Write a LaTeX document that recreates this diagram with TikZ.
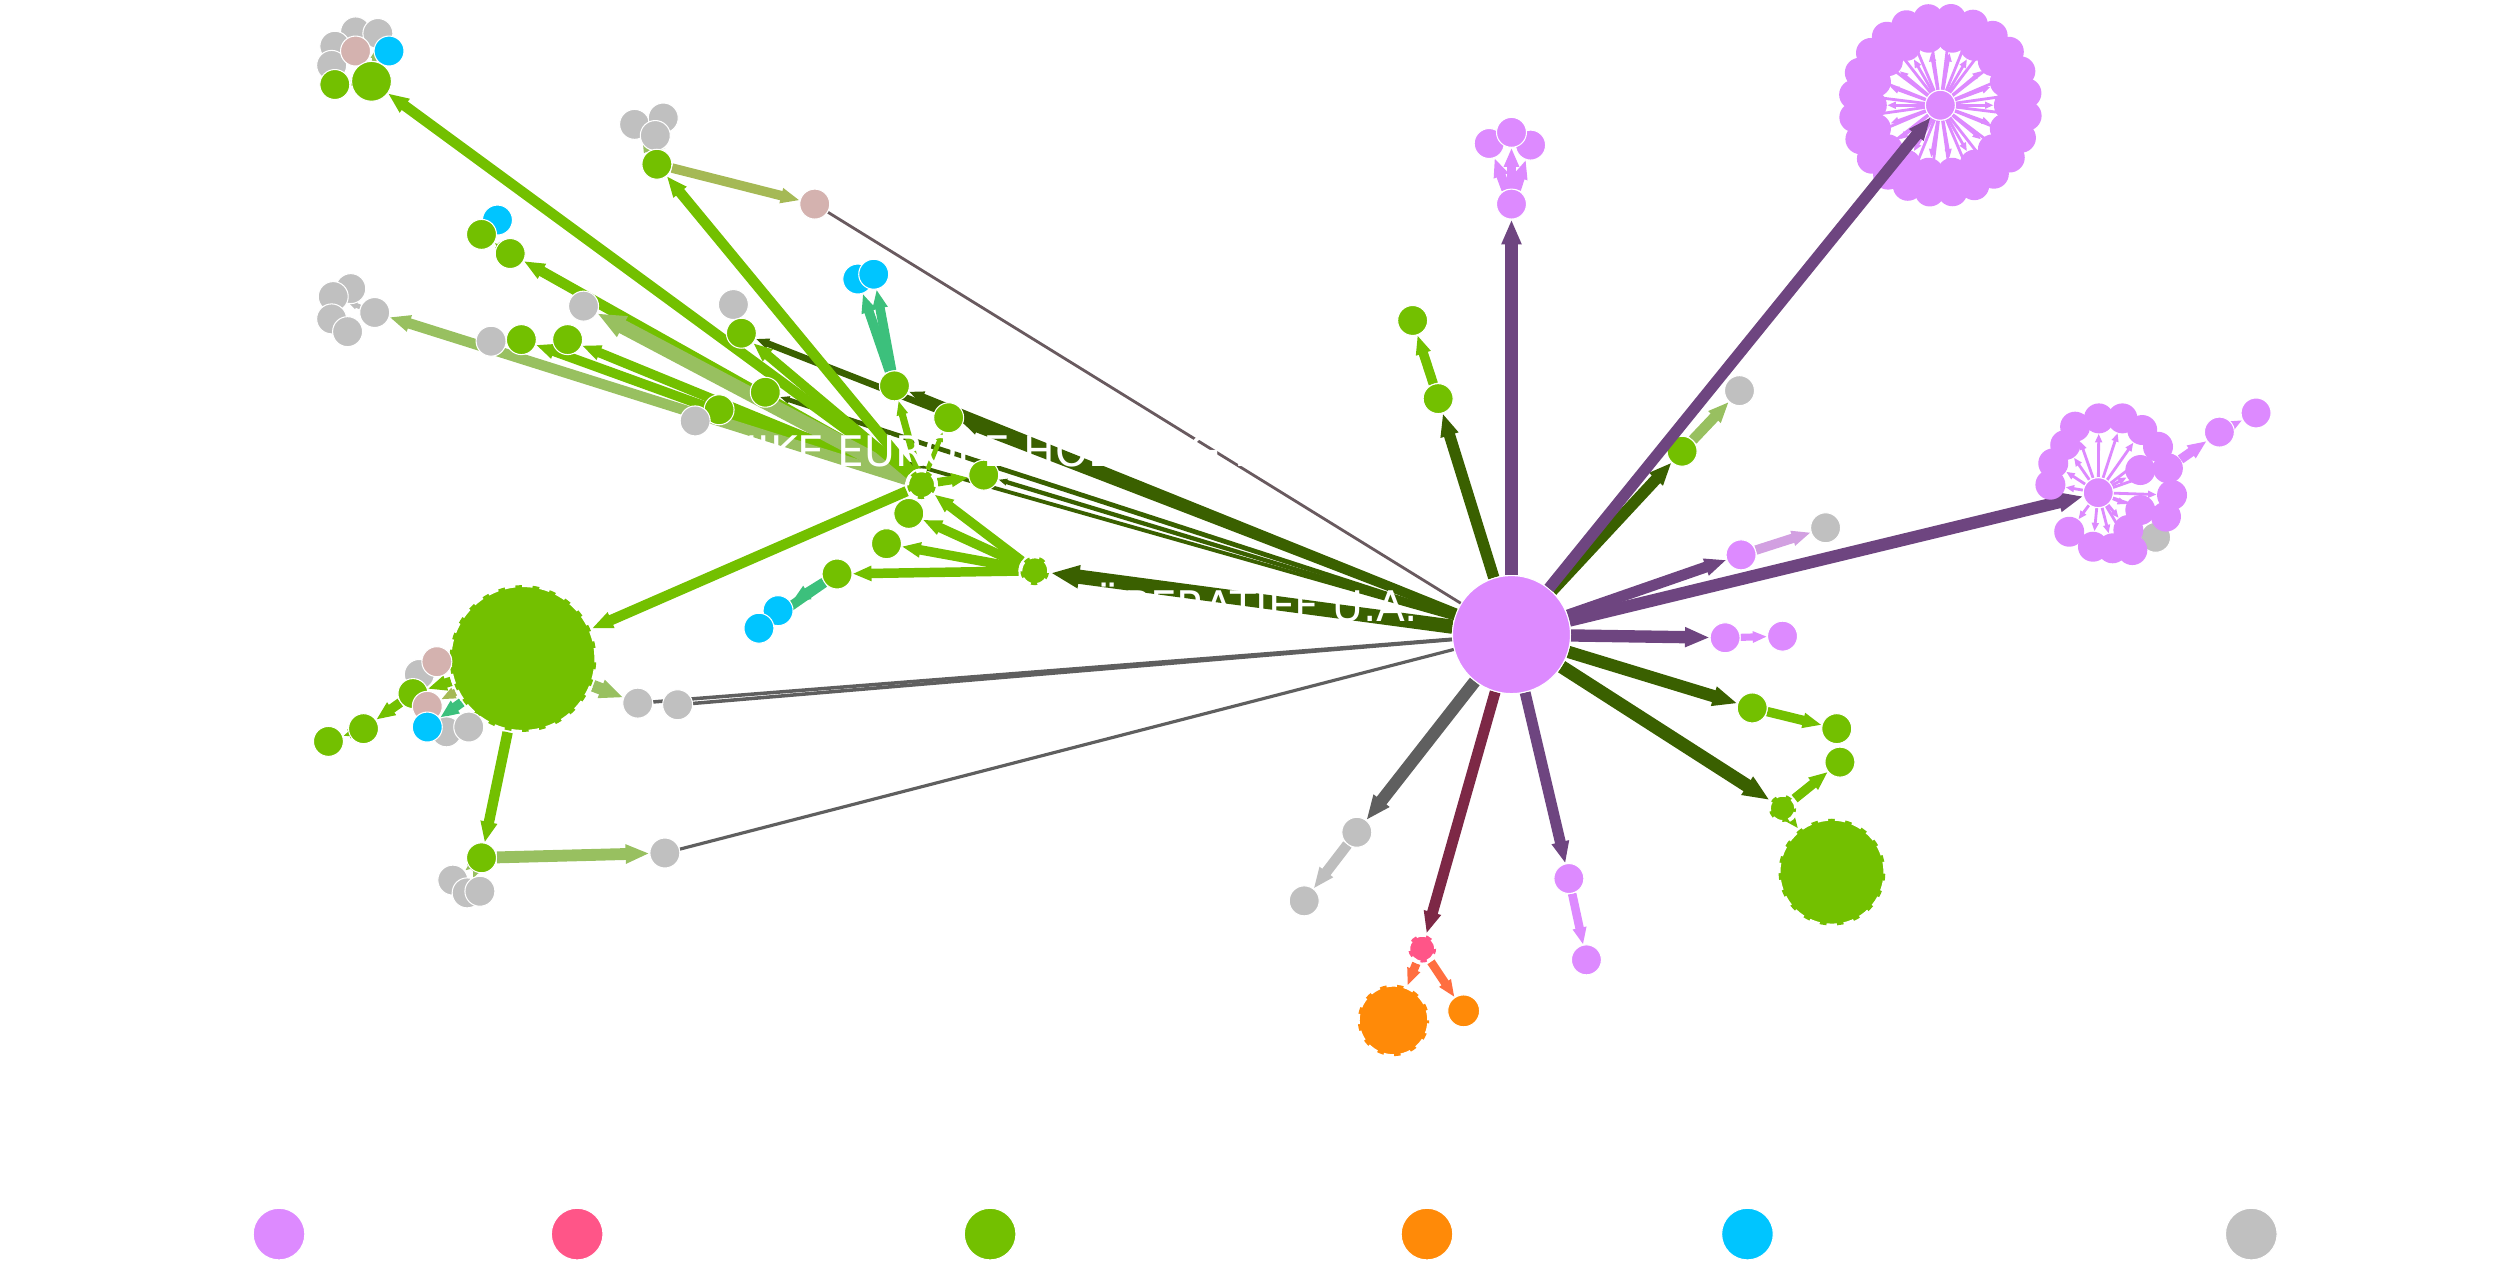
\documentclass[tikz,border=0pt]{standalone}
\usepackage{fontspec}
\setmainfont{DejaVu Sans}
\usepackage{tikz}
\usetikzlibrary{arrows.meta,backgrounds}

\definecolor{vPink}{RGB}{221,138,255}
\definecolor{vRed}{RGB}{255,85,136}
\definecolor{vGreen}{RGB}{115,192,0}
\definecolor{vOrange}{RGB}{255,138,8}
\definecolor{vCyan}{RGB}{0,197,255}
\definecolor{vGray}{RGB}{192,192,192}
\definecolor{vRose}{RGB}{212,178,175}
\definecolor{ePurple}{RGB}{110,69,128}
\definecolor{eDkGreen}{RGB}{58,96,0}
\definecolor{eLtGreen}{RGB}{152,192,96}
\definecolor{eOlive}{RGB}{165,185,85}
\definecolor{eTeal}{RGB}{60,192,124}
\definecolor{eDkGray}{RGB}{95,95,95}
\definecolor{eLtGray}{RGB}{190,190,190}
\definecolor{eMaroon}{RGB}{125,40,70}
\definecolor{eCoral}{RGB}{255,110,64}
\definecolor{eLav}{RGB}{210,160,225}
\definecolor{eBrown}{RGB}{105,90,95}

\begin{document}
\begin{tikzpicture}[
  x=0.015944cm, y=-0.015944cm,
  nd/.style={circle, inner sep=0pt, minimum size=#1*0.31888mm, draw=white, line width=0.3pt},
  pnode/.style={nd=#1, fill=vPink}, pnode/.default=9.4,
  gnode/.style={nd=#1, fill=vGreen}, gnode/.default=9.4,
  ynode/.style={nd=#1, fill=vGray}, ynode/.default=9.4,
  cnode/.style={nd=#1, fill=vCyan}, cnode/.default=9.4,
  rnode/.style={nd=#1, fill=vRose}, rnode/.default=9.4,
  onode/.style={nd=#1, fill=vOrange}, onode/.default=9.4,
  dsh/.style={densely dashed, line width=1.1pt},
  ed/.style={-{Triangle[length=0pt 2, width=0pt 1.5]}, line width=#1*1.35},
  ln/.style={line width=#1},
  ray/.style={-{Triangle[length=0pt 3, width=0pt 2.4]}, line width=0.8pt, vPink},
  lbl/.style={text=white, font=\fontsize{12}{14}\selectfont, inner sep=0pt}
]
\useasboundingbox (0,0) rectangle (1568,791);

% hub
\node[pnode=37] (hub) at (948,398) {};

% pink branches
\node[pnode] (ptop) at (948,128) {};
\node[pnode] (ptopa) at (934,90) {};
\node[pnode] (ptopc) at (960,91) {};
\node[pnode] (ptopb) at (948,83) {};
\node[pnode] (pa) at (1092,348) {};
\node[ynode] (ya) at (1145,331) {};
\node[pnode] (pb) at (1082,400) {};
\node[pnode] (pc) at (1118,399) {};
\node[pnode] (pd) at (984,551) {};
\node[pnode] (pe) at (995,602) {};

% ring cluster top right
\node[pnode] (c1) at (1217,66) {};
\foreach \i in {1,...,24}
  \node[pnode, draw=none] (c1o\i) at ({1217+54.5*cos(\i*15+7)},{66+54.5*sin(\i*15+7)}) {};
\foreach \i in {1,...,18}
  \node[pnode, draw=none] (c1i\i) at ({1217+43*cos(\i*20)},{66+43*sin(\i*20)}) {};

% ring cluster right
\node[ynode] (yc2) at (1352,337) {};
\node[pnode] (c2) at (1316,309) {};
\foreach \x/\y [count=\i] in {1301.5/267.6, 1316.4/262.4, 1331.2/262.4, 1343.6/269.7,
  1353.5/280.2, 1359.7/293.7, 1362.3/310.5, 1358.5/324, 1337.4/345, 1325/343.9,
  1312.7/342.9, 1297.8/333.5, 1286/304, 1287.8/290.6, 1295.3/279.1,
  1342.4/294.8, 1342.4/319.9, 1334.9/332.4}
  \node[pnode, draw=none] (c2r\i) at (\x,\y) {};
\node[pnode] (pf) at (1392,271) {};
\node[pnode] (pg) at (1415,259) {};

% green and others right of hub
\node[gnode] (gr1) at (1099,444) {};
\node[gnode] (gr2) at (1152,457) {};
\node[gnode] (gr3) at (1154,478) {};
\node[gnode=8.5, dsh] (gsm) at (1118,507) {};
\node[gnode=33.5, dsh] (gbig2) at (1149,547) {};
\node[gnode] (gt1) at (902,250) {};
\node[gnode] (gt2) at (886,201) {};
\node[gnode] (gt3) at (1055,283) {};
\node[ynode] (yt) at (1091,245) {};
\node[ynode] (yb1) at (851,522) {};
\node[ynode] (yb2) at (818,565) {};
\node[nd=8.7, fill=vRed, dsh] (red1) at (892,595) {};
\node[onode=22.4, dsh] (or1) at (874,640) {};
\node[onode=10] (or2) at (918,634) {};

% left part
\node[gnode=9, dsh] (n1) at (578,304) {};
\node[gnode=9, dsh] (n2) at (649,358) {};
\node[gnode] (gl1) at (570,322) {};
\node[gnode] (gl2) at (556,341) {};
\node[gnode] (gl3) at (525,360) {};
\node[cnode] (cl1) at (488,383) {};
\node[cnode] (cl2) at (476,394) {};
\node[ynode] (yu1) at (398,78) {};
\node[ynode] (yu2) at (416,74) {};
\node[ynode] (yu3) at (411,85) {};
\node[gnode] (gu1) at (412,103) {};
\node[rnode] (ru) at (511,128) {};
\node[cnode] (cu3) at (312,138) {};
\node[gnode] (gu2b) at (302,147) {};
\node[gnode] (gu2) at (320,159) {};
\node[ynode] (yu4) at (308,214) {};
\node[gnode] (gu3) at (327,213) {};
\node[gnode] (gu4) at (356,213) {};
\node[ynode] (yu5) at (366,192) {};
\node[ynode] (yu6) at (460,191) {};
\node[gnode] (gu5) at (465,209) {};
\node[gnode] (gu10) at (451,257) {};
\node[ynode] (yu7) at (436,264) {};
\node[gnode] (gu9) at (480,246) {};
\node[cnode] (cu1) at (538,175) {};
\node[cnode] (cu2) at (548,172) {};
\node[gnode] (gu6) at (561,242) {};
\node[gnode] (gu8) at (595,262) {};
\node[gnode] (gu7) at (617,298) {};
\node[ynode] (yc1) at (220,181) {};
\node[ynode] (yc2l) at (209,186) {};
\node[ynode] (yc3) at (208,200) {};
\node[ynode] (yc4) at (218,208) {};
\node[ynode] (yc5) at (235,196) {};
\node[ynode] (yta) at (223,20) {};
\node[ynode] (ytb) at (237,21) {};
\node[ynode] (ytc) at (210,29) {};
\node[ynode] (ytd) at (208,41) {};
\node[rnode] (rta) at (223,32) {};
\node[cnode] (cta) at (244,32) {};
\node[gnode] (gta) at (210,53) {};
\node[gnode=12.5] (gtb) at (233,51) {};
\node[gnode=46, dsh] (gbig1) at (328,413) {};
\node[ynode] (yl1) at (263,423) {};
\node[rnode] (rl1) at (274,415) {};
\node[gnode] (gl4) at (259,435) {};
\node[rnode] (rl2) at (268,443) {};
\node[ynode] (yl2) at (280,459) {};
\node[ynode] (yl3) at (294,456) {};
\node[cnode] (cl3) at (268,456) {};
\node[gnode] (gl5) at (228,457) {};
\node[gnode] (gl6) at (206,465) {};
\node[ynode] (ym1) at (400,441) {};
\node[ynode] (ym2) at (425,442) {};
\node[ynode] (yd1) at (284,552) {};
\node[ynode] (yd3) at (293,560) {};
\node[ynode] (yd2) at (301,559) {};
\node[gnode] (gd) at (302,538) {};
\node[ynode] (yd) at (417,535) {};

% legend
\node[nd=16.2, fill=vPink] (lg1) at (175,774) {};
\node[nd=16.2, fill=vRed] (lg2) at (362,774) {};
\node[nd=16.2, fill=vGreen] (lg3) at (621,774) {};
\node[nd=16.2, fill=vOrange] (lg4) at (895,774) {};
\node[nd=16.2, fill=vCyan] (lg5) at (1096,774) {};
\node[nd=16.2, fill=vGray] (lg6) at (1412,774) {};

\begin{scope}[on background layer]
\foreach \i in {1,...,24} \draw[ray] (c1) -- (c1o\i);
\foreach \i in {1,...,18} \draw[ray] (c1) -- (c1i\i);
\foreach \i in {1,...,18} \draw[ray] (c2) -- (c2r\i);
\draw[ed=2pt, vPink] (c2r6) -- (pf);
\draw[ed=1.8pt, vPink] (pf) -- (pg);

\draw[ed=2.6pt, ePurple] (hub) -- (ptop);
\draw[ed=2pt, vPink] (ptop) -- (ptopa);
\draw[ed=2pt, vPink] (ptop) -- (ptopb);
\draw[ed=2pt, vPink] (ptop) -- (ptopc);
\draw[ed=2.6pt, ePurple] (hub) -- (c2);
\draw[ed=2.3pt, ePurple] (hub) -- (pa);
\draw[ed=2pt, eLav] (pa) -- (ya);
\draw[ed=2.6pt, ePurple] (hub) -- (pb);
\draw[ed=1.5pt, vPink] (pb) -- (pc);
\draw[ed=2.3pt, ePurple] (hub) -- (pd);
\draw[ed=1.8pt, vPink] (pd) -- (pe);

\draw[ed=2.6pt, eDkGreen] (hub) -- (gr1);
\draw[ed=2pt, vGreen] (gr1) -- (gr2);
\draw[ed=2.8pt, eDkGreen] (hub) -- (gsm);
\draw[ed=2pt, vGreen] (gsm) -- (gr3);
\draw[ed=1.5pt, vGreen] (gsm) -- (gbig2);
\draw[ed=2.4pt, eDkGreen] (hub) -- (gt1);
\draw[ed=2pt, vGreen] (gt1) -- (gt2);
\draw[ed=2.4pt, eDkGreen] (hub) -- (gt3);
\draw[ed=2.2pt, eLtGreen] (gt3) -- (yt);
\draw[ed=2.6pt, eDkGray] (hub) -- (yb1);
\draw[ed=2.2pt, eLtGray] (yb1) -- (yb2);
\draw[ed=2.3pt, eMaroon] (hub) -- (red1);
\draw[ed=1.8pt, eCoral] (red1) -- (or1);
\draw[ed=1.8pt, eCoral] (red1) -- (or2);

\draw[ed=3pt, eDkGreen] (hub) -- (n2);
\draw[ed=2pt, vGreen] (n2) -- (n1);
\draw[ed=2pt, vGreen] (n2) -- (gl1);
\draw[ed=2pt, vGreen] (n2) -- (gl2);
\draw[ed=2pt, vGreen] (n2) -- (gl3);
\draw[ed=2pt, eTeal] (gl3) -- (cl1);
\draw[ed=2pt, eTeal] (gl3) -- (cl2);
\draw[ed=1.4pt, eDkGreen] (hub) -- (gu5);
\draw[ed=1pt, eDkGreen] (hub) -- (gu9);
\draw[ed=0.8pt, eDkGreen] (hub) -- (gu10);
\draw[ed=1.6pt, eDkGreen] (hub) -- (gu6);
\draw[ed=1.6pt, eDkGreen] (hub) -- (gu8);
\draw[ed=0.9pt, eDkGreen] (hub) -- (gu7);

\draw[ed=2.2pt, vGreen] (n1) -- (gtb);
\draw[ed=2.2pt, vGreen] (n1) -- (gu1);
\draw[ed=2.2pt, vGreen] (n1) -- (gu2);
\draw[ed=2pt, vGreen] (n1) -- (gu3);
\draw[ed=2pt, vGreen] (n1) -- (gu4);
\draw[ed=2.2pt, eLtGreen] (n1) -- (yc5);
\draw[ed=3pt, eLtGreen] (n1) -- (yu5);
\draw[ed=2pt, vGreen] (n1) -- (gu5);
\draw[ed=1.5pt, vGreen] (n1) -- (gu6);
\draw[ed=1.8pt, vGreen] (n1) -- (gu7);
\draw[ed=1pt, vGreen] (n1) -- (gu8);
\draw[ed=2.2pt, vGreen] (n1) -- (gbig1);
\draw[ed=2pt, eTeal] (gu6) -- (cu1);
\draw[ed=2pt, eTeal] (gu6) -- (cu2);
\draw[ed=2pt, eOlive] (gu1) -- (ru);
\draw[ed=1.5pt, eLtGreen] (gu1) -- (yu1);
\draw[ed=1.5pt, eLtGreen] (gu1) -- (yu2);
\draw[ln=0.8pt, eBrown] (ru) -- (hub);
\draw[ed=1.5pt, vGreen] (gu2) -- (gu2b);
\draw[ed=1pt, eTeal] (gu2b) -- (cu3);
\draw[ed=1.2pt, vGreen] (gtb) -- (gta);
\draw[ed=1.2pt, eOlive] (gtb) -- (rta);
\draw[ed=1pt, eLtGreen] (gtb) -- (ytb);
\draw[ed=1pt, eLtGray] (yc5) -- (yc2l);

\draw[ed=2pt, vGreen] (gbig1) -- (gl4);
\draw[ed=2pt, vGreen] (gl4) -- (gl5);
\draw[ed=2pt, vGreen] (gl5) -- (gl6);
\draw[ed=2pt, eTeal] (gbig1) -- (cl3);
\draw[ed=1.5pt, eOlive] (gbig1) -- (rl2);
\draw[ed=2.5pt, eLtGreen] (gbig1) -- (ym1);
\draw[ln=1pt, eDkGray] (hub) -- (ym2);
\draw[ln=1pt, eDkGray] (hub) -- (ym1);
\draw[ed=2.2pt, vGreen] (gbig1) -- (gd);
\draw[ed=2.5pt, eLtGreen] (gd) -- (yd);
\draw[ed=1.5pt, eLtGreen] (gd) -- (yd1);
\draw[ed=1.5pt, eLtGreen] (gd) -- (yd3);
\draw[ln=0.9pt, eDkGray] (hub) -- (yd);
\end{scope}

\draw[ed=2.4pt, ePurple] (hub) -- (c1);

\node[lbl, anchor=west] (lblnike) at (455,283) {NIKE EUROPE HOLDING B.V.};
\node[lbl, anchor=east] (lblcoop) at (890,378) {COÖPERATIEF U.A.};
\end{tikzpicture}
\end{document}
